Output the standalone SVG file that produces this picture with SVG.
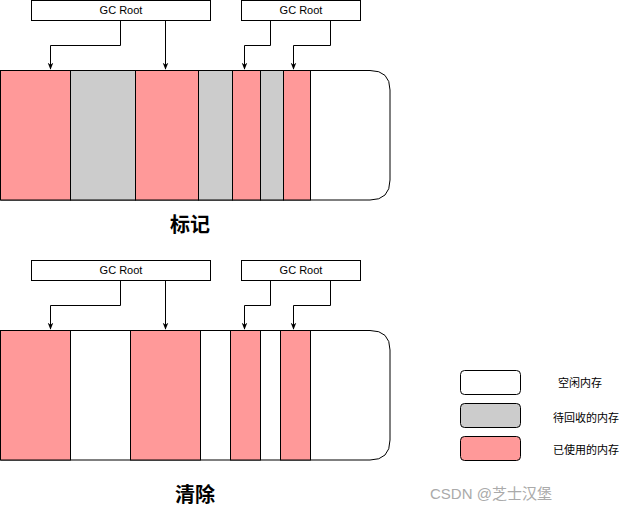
<svg xmlns="http://www.w3.org/2000/svg" width="631" height="511" viewBox="0 0 631 511">
<style>
.box{fill:#fff;stroke:#000;stroke-width:1}
.r{fill:#ff9999;stroke:#000}
.g{fill:#cccccc;stroke:#000}
.w{fill:#fff;stroke:#000}
.t{font-family:"Liberation Sans","Noto Sans CJK SC",sans-serif;font-size:11px;text-anchor:middle}
.h{font-family:"Noto Sans CJK SC",sans-serif;font-size:20px;font-weight:bold;text-anchor:middle}
.c{fill:none;stroke:#000;stroke-width:1;marker-end:url(#a)}
</style>
<defs><marker id="a" viewBox="0 0 10 10" refX="9" refY="5" markerWidth="7" markerHeight="7" orient="auto"><path d="M0,1 L10,5 L0,9 L3,5 Z" fill="#000"/></marker></defs>
<g id="top">
<path d="M0.5,70.5 H370 Q390,70.5 390,90 V180 Q390,200 370,200 H0.5 Z" class="w"/>
<rect class="r" x="0.5" y="70.5" width="70" height="129.5"/>
<rect class="g" x="70.5" y="70.5" width="65" height="129.5"/>
<rect class="r" x="135.5" y="70.5" width="63" height="129.5"/>
<rect class="g" x="198.5" y="70.5" width="34" height="129.5"/>
<rect class="r" x="232.5" y="70.5" width="28" height="129.5"/>
<rect class="g" x="260.5" y="70.5" width="23" height="129.5"/>
<rect class="r" x="283.5" y="70.5" width="27" height="129.5"/>
</g>
<g id="gc1"><rect class="box" x="31.5" y="0.5" width="179" height="20"/><text class="t" x="121" y="14">GC Root</text></g>
<g id="gc2"><rect class="box" x="241.5" y="0.5" width="119" height="20"/><text class="t" x="301" y="14">GC Root</text></g>
<text class="h" x="190" y="232">标记</text>
<g id="bottom">
<path d="M0.5,330.5 H370 Q390,330.5 390,350 V440 Q390,460 370,460 H0.5 Z" class="w"/>
<rect class="r" x="0.5" y="330.5" width="70" height="129.5"/>
<rect class="r" x="130.5" y="330.5" width="70" height="129.5"/>
<rect class="r" x="230.5" y="330.5" width="30" height="129.5"/>
<rect class="r" x="280.5" y="330.5" width="30" height="129.5"/>
</g>
<g id="gc3"><rect class="box" x="31.5" y="260.5" width="179" height="20"/><text class="t" x="121" y="274">GC Root</text></g>
<g id="gc4"><rect class="box" x="241.5" y="260.5" width="119" height="20"/><text class="t" x="301" y="274">GC Root</text></g>
<text class="h" x="195" y="502">清除</text>
<g id="connectors">
<path class="c" d="M120.5,20.5 V45.5 H50.5 V69"/>
<path class="c" d="M165.5,20.5 V69"/>
<path class="c" d="M270.5,20.5 V45.5 H244.5 V69"/>
<path class="c" d="M330.5,20.5 V45.5 H293.5 V69"/>
<path class="c" d="M120.5,280.5 V305.5 H50.5 V329"/>
<path class="c" d="M165.5,280.5 V329"/>
<path class="c" d="M270.5,280.5 V305.5 H244.5 V329"/>
<path class="c" d="M330.5,280.5 V305.5 H293.5 V329"/>
</g>
<g id="legend">
<rect x="460.5" y="370.5" width="60" height="24" rx="4" class="w"/>
<text class="t" x="580" y="387">空闲内存</text>
<rect x="460.5" y="403.5" width="60" height="24" rx="4" class="g"/>
<text class="t" x="586" y="422">待回收的内存</text>
<rect x="460.5" y="436.5" width="60" height="24" rx="4" class="r"/>
<text class="t" x="586" y="454">已使用的内存</text>
</g>
<text x="430" y="499" font-family="Liberation Sans,Noto Sans CJK SC,sans-serif" font-size="15" fill="#aaa">CSDN @芝士汉堡</text>
</svg>
